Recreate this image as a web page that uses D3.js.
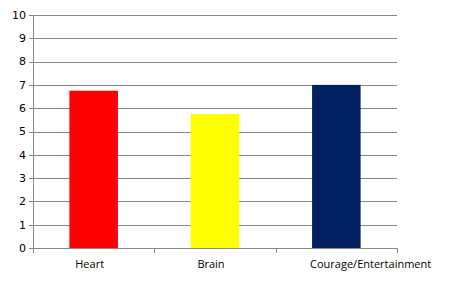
<!DOCTYPE html>
<html>
<head>
<meta charset="utf-8">
<script src="https://cdn.jsdelivr.net/npm/d3@7"></script>
<style>
  body { margin: 0; background: #fff; }
  text { font-family: "DejaVu Sans", sans-serif; }
</style>
</head>
<body>
<div id="wrapper"></div>
<script>
const categories = ["Heart", "Brain", "Courage/Entertainment"]
const values = [6.75, 5.75, 7]
const barColors = ["#ff0000", "#ffff00", "#002060"]
const yTicks = [0, 1, 2, 3, 4, 5, 6, 7, 8, 9, 10]

let dimensions = {
  width: 468,
  height: 291,
  margin: { top: 15, right: 71, bottom: 43, left: 33 }
}
dimensions.boundedWidth = dimensions.width - dimensions.margin.left - dimensions.margin.right
dimensions.boundedHeight = dimensions.height - dimensions.margin.top - dimensions.margin.bottom

const wrapper = d3.select('#wrapper').append('svg')
  .attr('width', dimensions.width).attr('height', dimensions.height)
const bounds = wrapper.append('g')
  .attr('transform', `translate(${dimensions.margin.left},${dimensions.margin.top})`)

const xScale = d3.scaleBand().domain(categories).range([0, dimensions.boundedWidth])
  .paddingInner(0.6).paddingOuter(0.3)
const yScale = d3.scaleLinear().domain([0, 10]).range([dimensions.boundedHeight, 0])

const axisColor = "#868686"

// gridlines
bounds.append('g').selectAll('line').data(yTicks).enter().append('line')
  .attr('x1', -4).attr('x2', dimensions.boundedWidth)
  .attr('y1', d => Math.round(yScale(d)) + 0.5).attr('y2', d => Math.round(yScale(d)) + 0.5)
  .attr('stroke', axisColor)

// y axis line
bounds.append('line')
  .attr('x1', 0.5).attr('x2', 0.5).attr('y1', 0).attr('y2', dimensions.boundedHeight)
  .attr('stroke', axisColor)

// y labels
bounds.append('g').selectAll('text').data(yTicks).enter().append('text')
  .attr('x', -7).attr('y', d => yScale(d))
  .attr('dy', '0.35em').attr('text-anchor', 'end')
  .style('font-size', '11px').attr('fill', '#000')
  .text(d => d)

// bars
bounds.append('g').selectAll('rect').data(values).enter().append('rect')
  .attr('x', (d, i) => xScale(categories[i]))
  .attr('y', d => yScale(d))
  .attr('width', xScale.bandwidth())
  .attr('height', d => dimensions.boundedHeight - yScale(d))
  .attr('fill', (d, i) => barColors[i])

// x axis ticks at category boundaries
const boundaries = d3.range(categories.length + 1).map(i => i * dimensions.boundedWidth / categories.length)
bounds.append('g').selectAll('line').data(boundaries).enter().append('line')
  .attr('x1', d => Math.round(d) + 0.5).attr('x2', d => Math.round(d) + 0.5)
  .attr('y1', dimensions.boundedHeight).attr('y2', dimensions.boundedHeight + 5)
  .attr('stroke', axisColor)

// x labels (the long last one starts at its bar, like the original)
const last = categories.length - 1
bounds.append('g').selectAll('text').data(categories).enter().append('text')
  .attr('x', (d, i) => i === last ? xScale(d) - 2 : xScale(d) + xScale.bandwidth() / 2 - 4)
  .attr('y', dimensions.boundedHeight + 16)
  .attr('dy', '0.35em')
  .attr('text-anchor', (d, i) => i === last ? 'start' : 'middle')
  .style('font-family', '"Open Sans", sans-serif')
  .style('font-size', '11px').attr('fill', '#000')
  .text(d => d)
</script>
</body>
</html>
